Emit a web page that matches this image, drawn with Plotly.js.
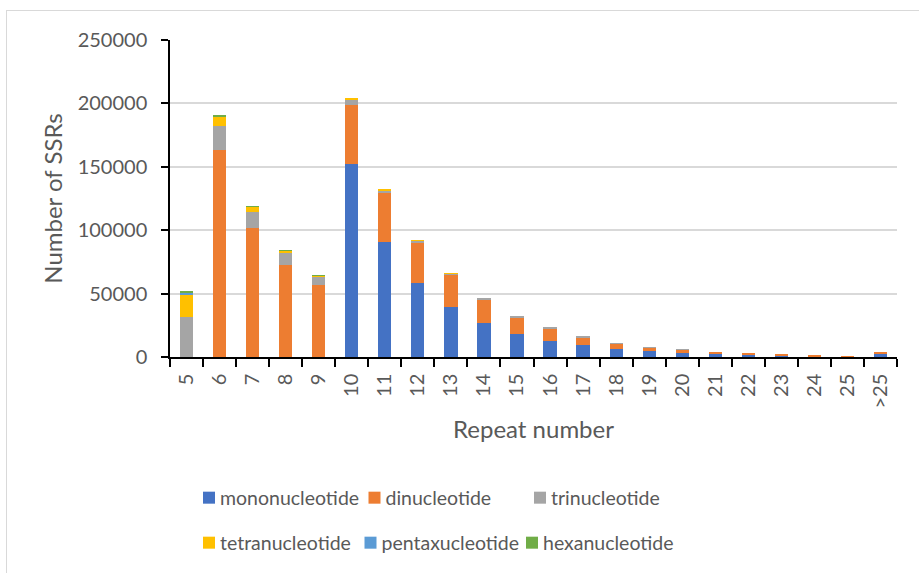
<!DOCTYPE html>
<html>
<head>
<meta charset="utf-8">
<script src="https://cdn.plot.ly/plotly-3.0.1.min.js"></script>
<style>
  html, body { margin: 0; padding: 0; background: #fff; }
  #wrap { position: relative; width: 919px; height: 573px; }
  #chart { width: 919px; height: 573px; }
  #frame { position: absolute; left: 6px; top: 10px; width: 920px; height: 570px; border: 1px solid #d9d9d9; pointer-events: none; }
  /* bring legend labels closer to their swatches, as in the original */
  #chart .scrollbox g.traces text { transform: translateX(-9px); }
  #chart .scrollbox { clip-path: none !important; }
</style>
</head>
<body>
<div id="wrap"><div id="chart"></div><div id="frame"></div></div>
<script>
const categories = ['5','6','7','8','9','10','11','12','13','14','15','16','17','18','19','20','21','22','23','24','25','>25'];
const mononucleotide = [0,0,0,0,0,152200,90400,58100,39700,27000,18100,12900,9200,6500,4700,3200,2400,1800,1000,300,0,2900];
const dinucleotide = [0,163200,101500,72300,56800,46800,38600,32000,25200,18500,13200,9500,6300,4300,2900,2400,1600,1300,1500,1200,300,300];
const trinucleotide = [31800,18900,13100,9500,6500,4400,2500,1500,1000,800,800,500,300,200,100,100,0,0,0,0,0,0];
const tetranucleotide = [17700,7300,3900,1800,1000,300,300,200,100,0,0,0,0,0,0,0,0,0,0,0,0,0];
const pentaxucleotide = [1000,300,100,200,100,0,0,0,0,0,0,0,0,0,0,0,0,0,0,0,0,0];
const hexanucleotide = [1800,600,200,500,200,0,0,0,0,0,0,0,0,0,0,0,0,0,0,0,0,0];

const seriesNames = ['mononucleotide','dinucleotide','trinucleotide','tetranucleotide','pentaxucleotide','hexanucleotide'];
const seriesValues = [mononucleotide, dinucleotide, trinucleotide, tetranucleotide, pentaxucleotide, hexanucleotide];
const colors = ['#4472C4','#ED7D31','#A5A5A5','#FFC000','#5B9BD5','#70AD47'];

const traces = seriesNames.map((n, i) => ({
  type: 'bar',
  name: n,
  x: categories,
  y: seriesValues[i],
  marker: { color: colors[i], line: { width: 0 } },
  legend: i < 3 ? 'legend' : 'legend2',
  hoverinfo: 'x+y+name'
}));

const font = 'Lato, "Open Sans", sans-serif';
const legendCommon = {
  orientation: 'h',
  traceorder: 'normal',
  xref: 'container', yref: 'container',
  xanchor: 'left', yanchor: 'middle',
  font: { family: font, size: 19.5, color: '#595959' },
  bgcolor: 'rgba(0,0,0,0)',
  entrywidthmode: 'pixels',
  itemclick: false, itemdoubleclick: false
};

const layout = {
  width: 919, height: 573,
  margin: { l: 170, r: 22, t: 40, b: 215.5 },
  paper_bgcolor: '#fff', plot_bgcolor: '#fff',
  barmode: 'stack',
  bargap: 0.6,
  showlegend: true,
  font: { family: font, color: '#595959' },
  xaxis: {
    type: 'category',
    tickangle: -90,
    ticks: 'outside', ticklen: 8, tickcolor: '#000', tickwidth: 1.5,
    tickson: 'boundaries',
    ticklabelstandoff: 7,
    showline: true, linecolor: '#000', linewidth: 1.5,
    showgrid: false,
    tickfont: { family: font, size: 20, color: '#595959' },
    title: { text: 'Repeat number', font: { family: font, size: 24, color: '#595959' }, standoff: 14 },
    automargin: false
  },
  yaxis: {
    range: [0, 250000],
    dtick: 50000,
    tickformat: 'd',
    ticks: 'outside', ticklen: 7, tickcolor: '#000', tickwidth: 1.5,
    ticklabelstandoff: 10,
    showline: true, linecolor: '#000', linewidth: 1.5,
    gridcolor: '#d9d9d9', gridwidth: 1.5,
    zeroline: false,
    tickfont: { family: font, size: 20, color: '#595959' },
    title: { text: 'Number of SSRs', font: { family: font, size: 24, color: '#595959' }, standoff: 8 },
    automargin: false
  },
  legend: Object.assign({}, legendCommon, { x: 189/919, y: 1 - 498/573, entrywidth: 120.5 }),
  legend2: Object.assign({}, legendCommon, { x: 189/919, y: 1 - 543/573, entrywidth: 116.5 })
};

Plotly.newPlot('chart', traces, layout, { displayModeBar: false });
</script>
</body>
</html>
